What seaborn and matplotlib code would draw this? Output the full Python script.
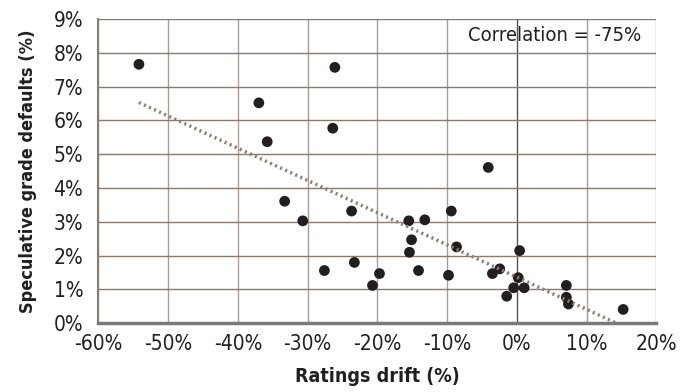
import matplotlib
matplotlib.use("Agg")
import matplotlib.pyplot as plt
import seaborn as sns
import pandas as pd
from matplotlib.ticker import FuncFormatter

drift = [-54.2, -37.0, -35.8, -33.3, -30.7, -26.1, -26.4, -4.1,
         -23.7, -27.6, -23.3, -20.7, -19.7, -15.5, -13.2, -15.1, -15.4, -14.1,
         -9.4, -8.65, -9.8, -3.5, -2.45, -1.45, -0.45, 0.2, 0.4, 1.05,
         7.1, 7.1, 7.4, 15.25]
defaults = [7.66, 6.52, 5.37, 3.61, 3.03, 7.57, 5.77, 4.61,
            3.32, 1.56, 1.80, 1.12, 1.47, 3.03, 3.06, 2.47, 2.10, 1.56,
            3.32, 2.26, 1.42, 1.47, 1.61, 0.80, 1.05, 1.35, 2.15, 1.05,
            1.12, 0.77, 0.57, 0.41]
x_ticks = [-60, -50, -40, -30, -20, -10, 0, 10, 20]
y_ticks = [0, 1, 2, 3, 4, 5, 6, 7, 8, 9]
annotation = "Correlation = -75%"

df = pd.DataFrame({"drift": drift, "defaults": defaults})

sns.set_style("white")
plt.rcParams['font.family'] = ['DejaVu Sans']
plt.rcParams['font.stretch'] = 'condensed'

fig = plt.figure(figsize=(6.95, 3.92), dpi=100)
ax = fig.add_axes([0.1417, 0.1753, 0.9443 - 0.1417, 0.9515 - 0.1753])

for xt in x_ticks:
    ax.axvline(xt, color="#a99d94" if xt != 0 else "#555555", lw=1.0, zorder=0)
for yt in y_ticks:
    ax.axhline(yt, color="#8a7a6f", lw=1.0, zorder=0)

sns.scatterplot(data=df, x="drift", y="defaults", ax=ax, color="#231f20",
                s=60, edgecolor="none", zorder=3)
sns.regplot(data=df, x="drift", y="defaults", ax=ax, scatter=False, ci=None,
            line_kws=dict(color="#8b7d72", lw=2.5, ls=(0, (0.6, 1.0)), zorder=4))

ax.set_xlim(-60, 20)
ax.set_ylim(0, 9)
ax.set_xticks(x_ticks)
ax.set_yticks(y_ticks)
ax.xaxis.set_major_formatter(FuncFormatter(lambda v, p: f"{v:.0f}%"))
ax.yaxis.set_major_formatter(FuncFormatter(lambda v, p: f"{v:.0f}%"))
ax.tick_params(labelsize=15, length=0, colors="#231f20")
ax.tick_params(axis="y", pad=11)
ax.tick_params(axis="x", pad=8)
for s in ["top", "right"]:
    ax.spines[s].set_visible(False)
ax.spines["left"].set_color("#8a7a6f")
ax.spines["left"].set_linewidth(1.5)
ax.spines["bottom"].set_color("#7a7a7a")
ax.spines["bottom"].set_linewidth(2.5)

ax.set_xlabel("Ratings drift (%)", fontsize=14, fontweight="bold", labelpad=9,
              color="#231f20")
ax.set_ylabel("Speculative grade defaults (%)", fontsize=13, fontweight="bold",
              labelpad=12, color="#231f20")

ax.text(-7.0, 8.5, annotation, fontsize=14.5, va="center", ha="left", color="#231f20")

fig.savefig("out.png", dpi=100)
